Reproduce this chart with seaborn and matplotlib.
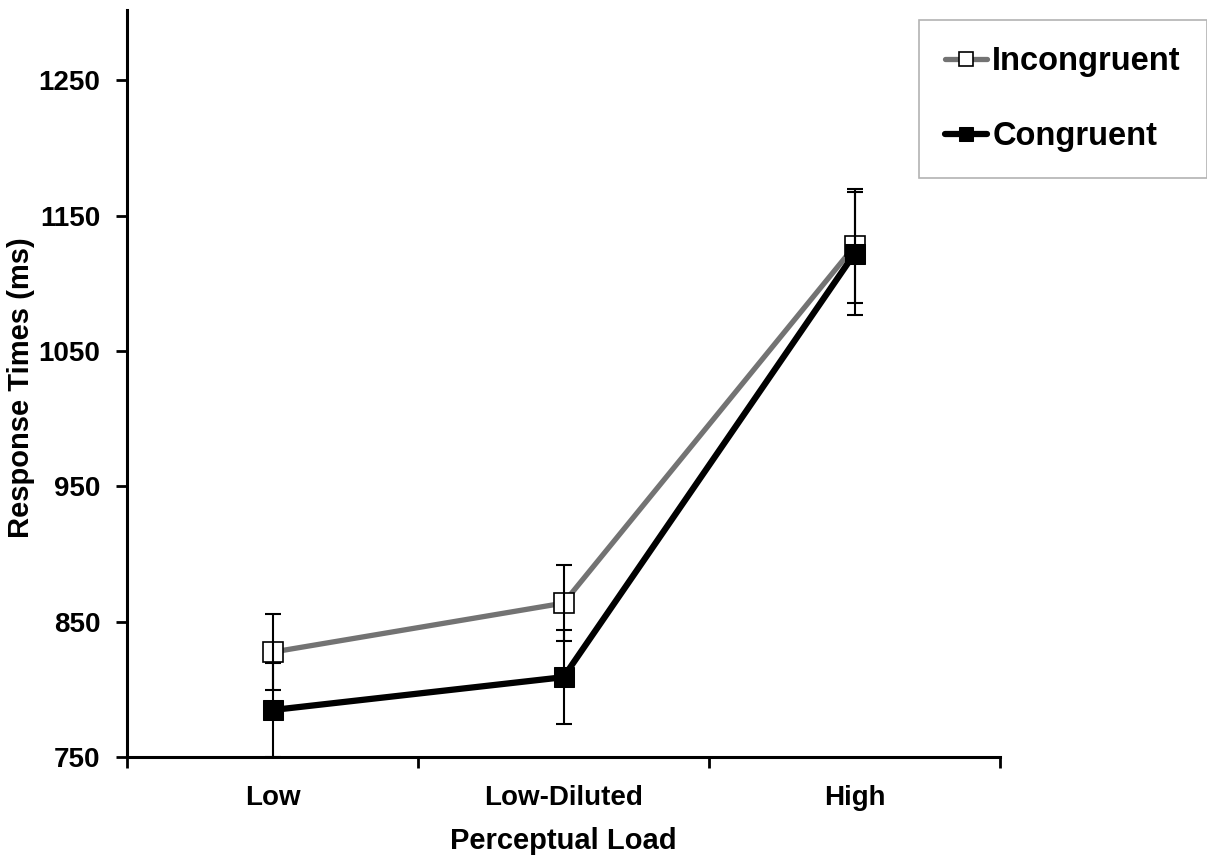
import matplotlib
matplotlib.use("Agg")
import matplotlib.pyplot as plt
import seaborn as sns
import pandas as pd
import numpy as np

# values
loads = ["Low", "Low-Diluted", "High"]
incongruent = [827.5, 863.7, 1127.5]
incongruent_err = [28.0, 28.0, 42.0]
congruent = [784.7, 809.0, 1122.0]
congruent_err = [34.7, 34.5, 45.7]
y_ticks = [750, 850, 950, 1050, 1150, 1250]

sns.set_style("white")
plt.rcParams["font.family"] = ["Liberation Sans", "DejaVu Sans"]
plt.rcParams["font.weight"] = "bold"
for key in ["text.color", "axes.labelcolor", "xtick.color", "ytick.color"]:
    plt.rcParams[key] = "black"

df = pd.DataFrame({
    "pos": np.arange(len(loads)),
    "load": loads,
    "inc": incongruent,
    "inc_err": incongruent_err,
    "con": congruent,
    "con_err": congruent_err,
})

fig = plt.figure(figsize=(12.07, 8.59), dpi=100)
ax = fig.add_axes([127 / 1207, 102 / 859, 873 / 1207, 747 / 859])

sns.lineplot(data=df, x="pos", y="inc", ax=ax, color="#737373", linewidth=3.8,
             marker="s", markersize=14, markerfacecolor="white",
             markeredgecolor="black", markeredgewidth=1.2,
             label="Incongruent", zorder=3)
sns.lineplot(data=df, x="pos", y="con", ax=ax, color="black", linewidth=4.5,
             marker="s", markersize=14, markerfacecolor="black",
             markeredgecolor="black", label="Congruent", zorder=4)

ax.errorbar(df["pos"], df["inc"], yerr=df["inc_err"], fmt="none", ecolor="black",
            elinewidth=1.5, capsize=6, capthick=1.5, zorder=5)
ax.errorbar(df["pos"], df["con"], yerr=df["con_err"], fmt="none", ecolor="black",
            elinewidth=1.5, capsize=6, capthick=1.5, zorder=5)

ax.set_xlim(-0.5, 2.5)
ax.set_ylim(750, 1302)
ax.set_yticks(y_ticks)
ax.set_yticklabels([str(v) for v in y_ticks], fontsize=20, fontweight="bold")

# category boundaries get tick marks, labels sit in between
ax.set_xticks([-0.5, 0.5, 1.5, 2.5])
ax.set_xticklabels([])
ax.set_xticks(df["pos"], minor=True)
ax.set_xticklabels(loads, minor=True, fontsize=20, fontweight="bold")
ax.tick_params(axis="x", which="minor", length=0, pad=20)
ax.tick_params(axis="x", which="major", length=8, width=2, direction="out", color="black")
ax.tick_params(axis="y", length=8, width=2, direction="out", color="black", pad=11)
ax.tick_params(axis="y", which="both", left=True)
ax.tick_params(axis="x", which="both", bottom=True)

ax.set_xlabel("Perceptual Load", fontsize=21, fontweight="bold", labelpad=12)
ax.set_ylabel("Response Times (ms)", fontsize=21, fontweight="bold")
ax.yaxis.set_label_coords(-0.105, 0.495)

sns.despine(ax=ax)
for side in ["left", "bottom"]:
    ax.spines[side].set_linewidth(2.2)
    ax.spines[side].set_color("black")

ax.get_legend().remove()
handles, labels = ax.get_legend_handles_labels()
leg = fig.legend(handles, labels, loc="upper right", bbox_to_anchor=(1.0, 1 - 20 / 859),
                 prop={"weight": "bold", "size": 23.5}, frameon=True,
                 fancybox=False, edgecolor="#a0a0a0", handlelength=1.3,
                 handletextpad=0.15, labelspacing=1.35, borderpad=0.8, borderaxespad=0)
leg.get_frame().set_linewidth(1.2)
for line in leg.get_lines():
    line.set_markersize(10)

fig.savefig("out.png", dpi=100, facecolor="white")
